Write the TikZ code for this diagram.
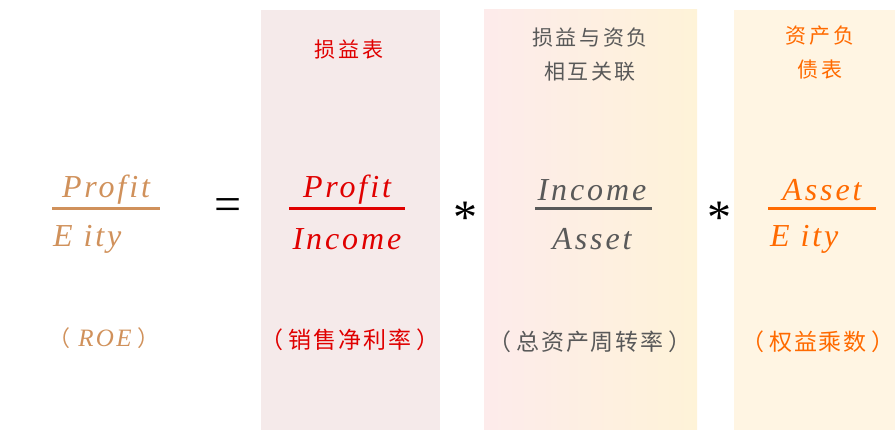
\documentclass[tikz,border=0pt]{standalone}
\usepackage{fontspec}
\setmainfont{Liberation Serif}
\newfontfamily\fracfont[LetterSpace=9]{Liberation Serif Italic}
\newfontfamily\cjk[LetterSpace=8]{Noto Sans CJK SC}
\newfontfamily\cjkspaced[LetterSpace=12]{Noto Sans CJK SC}
\definecolor{roe}{HTML}{D0915B}
\definecolor{redc}{HTML}{E00000}
\definecolor{grayc}{HTML}{595959}
\definecolor{orc}{HTML}{FF6A00}
\definecolor{pa}{HTML}{F5EAEA}
\definecolor{pbl}{HTML}{FDEBEB}
\definecolor{pbr}{HTML}{FEF3D8}
\definecolor{pc}{HTML}{FFF5E3}
\newcommand{\lp}{（\hspace{5pt}}
\newcommand{\rp}{\hspace{5pt}）}
\tikzset{
  frac/.style={font=\fracfont\fontsize{32}{34}\selectfont, inner sep=0pt},
  cn/.style={font=\cjkspaced\fontsize{21}{34}\selectfont, align=center, inner sep=0pt},
  cnb/.style={font=\cjk\fontsize{23}{26}\selectfont, inner sep=0pt},
  op/.style={font=\fontsize{48}{50}\selectfont, inner sep=0pt},
  bar/.style={line width=3pt}
}
\begin{document}
\begin{tikzpicture}[x=1pt,y=-1pt]
\useasboundingbox (0,0) rectangle (895,430);
% panels
\fill[pa] (261,10) rectangle (440,430);
\shade[left color=pbl, right color=pbr] (484,10) rectangle (697,430);
\fill[pc] (734,10) rectangle (895,430);
% left fraction
\node[frac, text=roe] (p0) at (106,190) {Profit};
\node[frac, text=roe, anchor=west] (e0) at (53,239) {E ity};
\coordinate (l0a) at (52,209); \coordinate (l0b) at (160,209);
\draw[bar, roe] (l0a) -- (l0b);
\node[text=roe, inner sep=0pt] (roe) at (104,338) {{\cjk\fontsize{22}{24}\selectfont （}\hspace{8pt}{\fracfont\fontsize{25}{26}\selectfont ROE}\hspace{6pt}{\cjk\fontsize{22}{24}\selectfont ）}};
\node[op] (eq) at (228,210) {=};
% panel 1
\node[cn, text=redc] (t1) at (349,50) {损益表};
\node[frac, text=redc] (p1) at (347,190) {Profit};
\node[frac, text=redc] (i1) at (347,239) {Income};
\coordinate (l1a) at (289,209); \coordinate (l1b) at (405,209);
\draw[bar, redc] (l1a) -- (l1b);
\node[cnb, text=redc] (b1) at (350,340) {\lp 销售净利率\rp};
\node[op] (m1) at (465,218) {*};
% panel 2
\node[cn, text=grayc] (t2) at (590,55) {损益与资负\\相互关联};
\node[frac, text=grayc] (i2) at (592,190) {Income};
\node[frac, text=grayc] (a2) at (592,239) {Asset};
\coordinate (l2a) at (535,209); \coordinate (l2b) at (652,209);
\draw[bar, grayc] (l2a) -- (l2b);
\node[cnb, text=grayc] (b2) at (590,342) {\lp 总资产周转率\rp};
\node[op] (m2) at (719,218) {*};
% panel 3
\node[cn, text=orc] (t3) at (820,53) {资产负\\债表};
\node[frac, text=orc] (a3) at (822,190) {Asset};
\node[frac, text=orc, anchor=west] (e3) at (770,239) {E ity};
\coordinate (l3a) at (768,209); \coordinate (l3b) at (876,209);
\draw[bar, orc] (l3a) -- (l3b);
\node[cnb, text=orc] (b3) at (818,342) {\lp 权益乘数\rp};
\end{tikzpicture}
\end{document}
